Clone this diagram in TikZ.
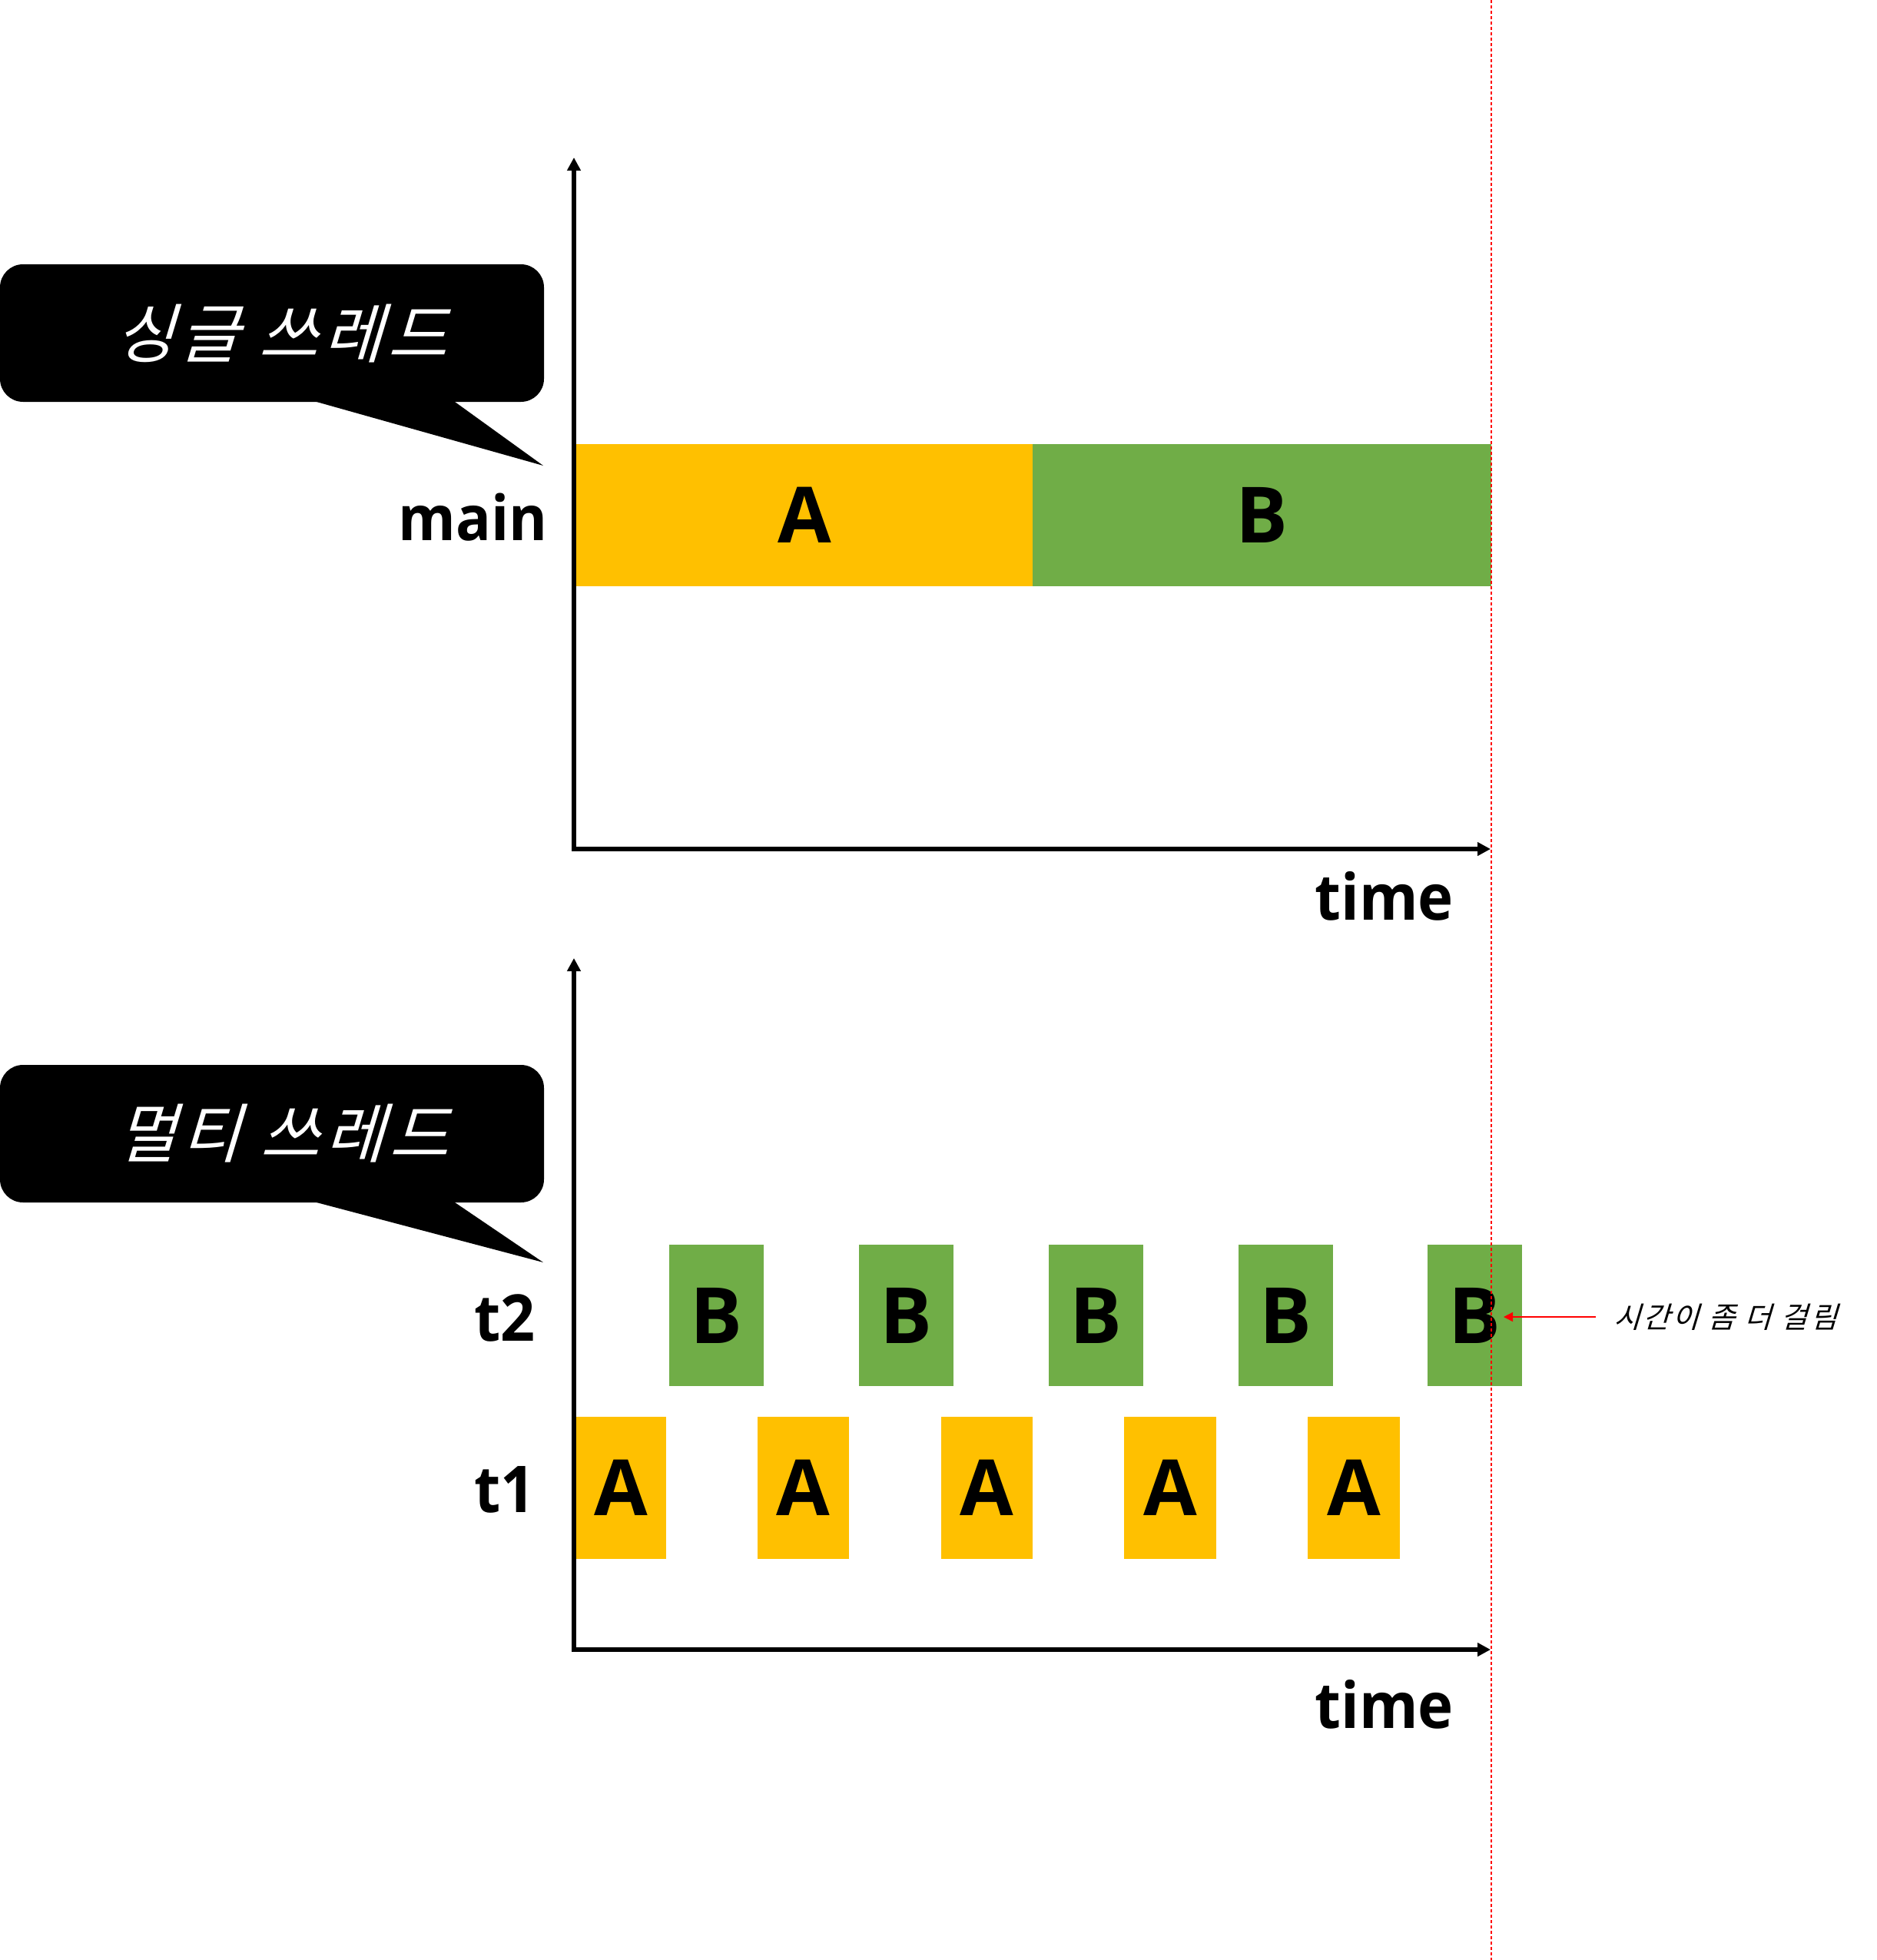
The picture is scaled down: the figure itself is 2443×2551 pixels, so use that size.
\documentclass[tikz,border=0pt]{standalone}
\usepackage{fontspec}
\setmainfont{Open Sans}
\newfontfamily\labfont[FakeStretch=0.94]{Open Sans}
\newfontfamily\krfont[FakeSlant=0.3,LetterSpace=8]{Noto Sans CJK KR}
\newfontfamily\krnote[FakeSlant=0.3,LetterSpace=9]{Noto Sans CJK KR}
\usetikzlibrary{arrows.meta}
\definecolor{yellowc}{HTML}{FFC000}
\definecolor{greenc}{HTML}{70AD47}
\begin{document}
\begin{tikzpicture}[x=1pt,y=-1pt,
  boxbase/.style={draw=none, inner sep=0pt, outer sep=0pt, text height=72pt, text depth=0pt,
    font=\fontsize{101}{110}\selectfont\bfseries},
  ybox/.style={boxbase, fill=yellowc},
  gbox/.style={boxbase, fill=greenc},
  lbl/.style={inner sep=0pt, outer sep=0pt, font=\fontsize{81}{90}\selectfont\labfont\bfseries},
  axis/.style={line width=6pt, line join=miter, {Triangle[length=17pt,width=17pt]}-{Triangle[length=17pt,width=17pt]}},
  bubble/.style={fill=black},
  bubtext/.style={inner sep=0pt, text=white, font=\fontsize{84}{90}\selectfont\krfont},
  notetext/.style={inner sep=0pt, font=\fontsize{38}{44}\selectfont\krnote},
  notearrow/.style={draw=red, line width=1.5pt, -{Triangle[length=12pt,width=12pt]}},
  guide/.style={draw=red, line width=1.2pt, dash pattern=on 4pt off 3pt}
]
\useasboundingbox (0,0) rectangle (2443,2551);

% ---------- single thread ----------
\fill[bubble] (412,523) -- (707,606) -- (592,523) -- cycle;
\fill[bubble, rounded corners=30pt] (0,344) rectangle (708,523);
\node[bubtext] (single) at (366,434) {싱글 쓰레드};

\node[ybox, minimum width=594, minimum height=185] (mA) at (1047,670.5) {A};
\node[gbox, minimum width=597, minimum height=185] (mB) at (1642.5,670.5) {B};

\coordinate (o1) at (747,1105);
\coordinate (y1) at (747,205);
\coordinate (x1) at (1940,1105);
\draw[axis] (y1) -- (o1) -- (x1);

\node[lbl, anchor=base east] (main) at (713,703) {main};
\node[lbl, font=\fontsize{83}{90}\selectfont\labfont\bfseries, anchor=base east] (time1) at (1892,1197) {time};

% ---------- multi thread ----------
\fill[bubble] (412,1565) -- (707,1643) -- (592,1565) -- cycle;
\fill[bubble, rounded corners=30pt] (0,1386) rectangle (708,1565);
\node[bubtext] (multi) at (368,1475) {멀티 쓰레드};

\node[gbox, minimum width=123, minimum height=184] (b1) at (932.5,1712) {B};
\node[gbox, minimum width=123, minimum height=184] (b2) at (1179.5,1712) {B};
\node[gbox, minimum width=123, minimum height=184] (b3) at (1426,1712) {B};
\node[gbox, minimum width=123, minimum height=184] (b4) at (1673,1712) {B};
\node[gbox, minimum width=123, minimum height=184] (b5) at (1919.5,1712) {B};

\node[ybox, minimum width=117, minimum height=185] (a1) at (808.5,1936.5) {A};
\node[ybox, minimum width=119, minimum height=185] (a2) at (1045.5,1936.5) {A};
\node[ybox, minimum width=119, minimum height=185] (a3) at (1284.5,1936.5) {A};
\node[ybox, minimum width=120, minimum height=185] (a4) at (1523,1936.5) {A};
\node[ybox, minimum width=120, minimum height=185] (a5) at (1762,1936.5) {A};

\coordinate (o2) at (747,2147);
\coordinate (y2) at (747,1247);
\coordinate (x2) at (1940,2147);
\draw[axis] (y2) -- (o2) -- (x2);

\node[lbl, font=\fontsize{84}{90}\selectfont\labfont\bfseries, anchor=base west] (t2) at (617,1745) {t2};
\node[lbl, font=\fontsize{84}{90}\selectfont\labfont\bfseries, anchor=base west] (t1) at (617,1968) {t1};
\node[lbl, font=\fontsize{83}{90}\selectfont\labfont\bfseries, anchor=base east] (time2) at (1892,2249) {time};

% ---------- note ----------
\node[notetext, anchor=west] (note) at (2100,1714) {시간이 좀 더 걸림};
\coordinate (b5tip) at (1957,1714);
\draw[notearrow, shorten <=23pt] (note.west) -- (b5tip);

% ---------- guide line ----------
\coordinate (gtop) at (1941,0);
\coordinate (gbot) at (1941,2551);
\draw[guide] (gtop) -- (gbot);
\end{tikzpicture}
\end{document}
